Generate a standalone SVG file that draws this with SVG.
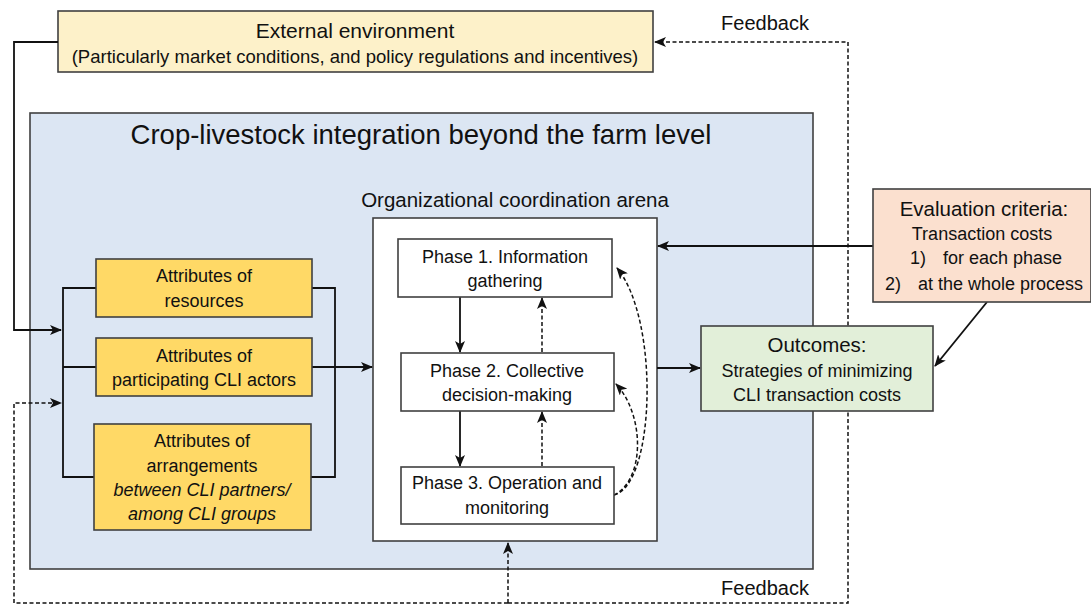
<svg xmlns="http://www.w3.org/2000/svg" width="1091" height="605" viewBox="0 0 1091 605">
<style>
text{font-family:"Liberation Sans",Arial,sans-serif;fill:#111;text-anchor:middle}
.box{stroke:#404040;stroke-width:1.6}
.ln{fill:none;stroke:#111;stroke-width:1.8}
.dl{fill:none;stroke:#111;stroke-width:1.5;stroke-dasharray:4,2.5}
.t17{font-size:18px}
.t18{font-size:20px}
</style>
<defs>
<marker id="ah" viewBox="0 0 12 10" refX="11" refY="5" markerWidth="12" markerHeight="10" markerUnits="userSpaceOnUse" orient="auto">
<path d="M0,0 L12,5 L0,10 L3,5 z" fill="#111"/>
</marker>
</defs>
<rect width="1091" height="605" fill="#fff"/>
<g id="blue-area">
<rect x="30" y="113" width="783" height="456" fill="#dce6f3" class="box"/>
<text x="421" y="144" style="font-size:27.5px">Crop-livestock integration beyond the farm level</text>
<text x="515" y="207" style="font-size:20.5px">Organizational coordination arena</text>
</g>
<g id="arena">
<rect x="373" y="218" width="284" height="323" fill="#fff" class="box"/>
</g>
<g id="external">
<rect x="58" y="11" width="595" height="61" fill="#fdf1c9" class="box"/>
<text x="355" y="38" style="font-size:21px">External environment</text>
<text x="355" y="63" style="font-size:18.5px">(Particularly market conditions, and policy regulations and incentives)</text>
</g>
<g id="connectors">
<polyline class="ln" points="58,42 14,42 14,330 61,330" marker-end="url(#ah)"/>
<polyline class="dl" points="508,603 14,603 14,403 61,403" marker-end="url(#ah)"/>
<line class="dl" x1="508" y1="603" x2="508" y2="543" marker-end="url(#ah)"/>
<polyline class="dl" points="508,603 848,603 848,42 655,42" marker-end="url(#ah)"/>
<polyline class="ln" points="96,288 63,288 63,477 94,477"/>
<line class="ln" x1="63" y1="367" x2="96" y2="367"/>
<polyline class="ln" points="312,288 335,288 335,477 311,477"/>
<line class="ln" x1="312" y1="367" x2="372" y2="367" marker-end="url(#ah)"/>
<line class="ln" x1="460" y1="297" x2="460" y2="352" marker-end="url(#ah)"/>
<line class="ln" x1="460" y1="411" x2="460" y2="466" marker-end="url(#ah)"/>
<line class="dl" x1="542" y1="352" x2="542" y2="298" marker-end="url(#ah)"/>
<line class="dl" x1="542" y1="466" x2="542" y2="412" marker-end="url(#ah)"/>
<path class="dl" d="M614,495 C655,485 660,320 617,268" marker-end="url(#ah)"/>
<path class="dl" d="M614,495 C645,480 645,415 616,384" marker-end="url(#ah)"/>
<line class="ln" x1="873" y1="246" x2="658" y2="246" marker-end="url(#ah)"/>
<line class="ln" x1="657" y1="368" x2="700" y2="368" marker-end="url(#ah)"/>
<line class="ln" x1="987" y1="302" x2="935" y2="366" marker-end="url(#ah)"/>
</g>
<g id="attr-resources">
<rect x="96" y="259" width="216" height="58" fill="#ffd966" class="box"/>
<text class="t17" x="204" y="282">Attributes of</text>
<text class="t17" x="204" y="307">resources</text>
</g>
<g id="attr-actors">
<rect x="96" y="338" width="216" height="58" fill="#ffd966" class="box"/>
<text class="t17" x="204" y="362">Attributes of</text>
<text class="t17" x="204" y="386">participating CLI actors</text>
</g>
<g id="attr-arrangements">
<rect x="94" y="424" width="217" height="106" fill="#ffd966" class="box"/>
<text class="t17" x="202" y="447">Attributes of</text>
<text class="t17" x="202" y="472">arrangements</text>
<text class="t17" x="202" y="496" font-style="italic">between CLI partners/</text>
<text class="t17" x="202" y="520" font-style="italic">among CLI groups</text>
</g>
<g id="phase1">
<rect x="398" y="239" width="214" height="58" fill="#fff" class="box"/>
<text class="t17" x="505" y="263">Phase 1. Information</text>
<text class="t17" x="505" y="287">gathering</text>
</g>
<g id="phase2">
<rect x="401" y="353" width="213" height="58" fill="#fff" class="box"/>
<text class="t17" x="507" y="377">Phase 2. Collective</text>
<text class="t17" x="507" y="401">decision-making</text>
</g>
<g id="phase3">
<rect x="401" y="467" width="213" height="57" fill="#fff" class="box"/>
<text class="t17" x="507" y="489">Phase 3. Operation and</text>
<text class="t17" x="507" y="514">monitoring</text>
</g>
<g id="evaluation">
<rect x="873" y="189" width="218" height="113" fill="#fbe0cf" class="box"/>
<text x="984" y="216" style="font-size:20.5px">Evaluation criteria:</text>
<text class="t17" x="982" y="240">Transaction costs</text>
<text class="t17" x="910" y="264" style="text-anchor:start">1)</text>
<text class="t17" x="943" y="264" style="text-anchor:start">for each phase</text>
<text class="t17" x="885" y="290" style="text-anchor:start">2)</text>
<text class="t17" x="918" y="290" style="text-anchor:start">at the whole process</text>
</g>
<g id="outcomes">
<rect x="701" y="326" width="232" height="85" fill="#e2efd9" class="box"/>
<text x="817" y="352" style="font-size:20.5px">Outcomes:</text>
<text class="t17" x="817" y="377">Strategies of minimizing</text>
<text class="t17" x="817" y="401">CLI transaction costs</text>
</g>
<g id="labels">
<text class="t18" x="765" y="30">Feedback</text>
<text class="t18" x="765" y="595">Feedback</text>
</g>
</svg>
